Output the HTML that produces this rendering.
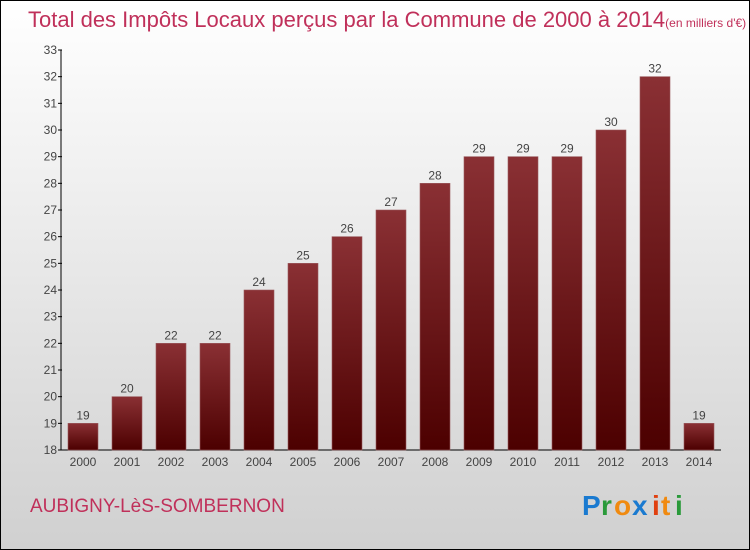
<!DOCTYPE html>
<html><head><meta charset="utf-8"><style>
body{margin:0;}
svg{display:block;font-family:"Liberation Sans",sans-serif;}
</style></head><body>
<svg id="c" width="750" height="550" xmlns="http://www.w3.org/2000/svg">
<defs>
<linearGradient id="bg" x1="0" y1="0" x2="0" y2="1"><stop offset="0" stop-color="#ffffff"/><stop offset="1" stop-color="#d0d0d0"/></linearGradient>
<linearGradient id="bar" x1="0" y1="0" x2="0" y2="1"><stop offset="0" stop-color="#8a3034"/><stop offset="1" stop-color="#4c0000"/></linearGradient>
</defs>
<rect x="0.5" y="0.5" width="749" height="549" fill="url(#bg)" stroke="#000"/>
<text x="28" y="27" font-size="22" fill="#c0305a">Total des Impôts Locaux perçus par la Commune de 2000 à 2014<tspan font-size="12">(en milliers d'€)</tspan></text>
<g id="axes"></g>
<g id="bars"></g>
<text x="30" y="512" font-size="19" fill="#c0305a">AUBIGNY-LèS-SOMBERNON</text>
<g font-size="28" font-weight="bold">
<text x="582" y="515" fill="#1a7ad0">P</text><text x="601" y="515" fill="#2a9a3a">r</text><text x="614" y="515" fill="#f08a10">o</text><text x="632" y="515" fill="#1a7ad0">x</text><text x="652" y="515" fill="#e04010">i</text><text x="661" y="515" fill="#f08a10">t</text><text x="675" y="515" fill="#2a9a3a">i</text>
</g>
</svg>
<script>
const years=["2000","2001","2002","2003","2004","2005","2006","2007","2008","2009","2010","2011","2012","2013","2014"];
const values=[19,20,22,22,24,25,26,27,28,29,29,29,30,32,19];
const yTicks=[18,19,20,21,22,23,24,25,26,27,28,29,30,31,32,33];
const NS="http://www.w3.org/2000/svg";
const y0=450,yTop=50,vMin=18,vMax=33,x0=61,x1=721;
const yS=v=>y0-(v-vMin)/(vMax-vMin)*(y0-yTop);
const step=(x1-x0)/years.length;
const xS=i=>x0+step*(i+0.5);
function mk(t,a,p){const e=document.createElementNS(NS,t);for(const k in a)e.setAttribute(k,a[k]);(p||document.getElementById('c')).appendChild(e);return e;}
const ax=document.getElementById('axes'),bs=document.getElementById('bars');
const yl=mk('line',{x1:x0,y1:yTop,x2:x0,y2:y0,stroke:'#000'},ax);


const xl=mk('line',{x1:x0,y1:y0,x2:x1,y2:y0,stroke:'#000'},ax);


yTicks.forEach(v=>{
 const y=yS(v);
 mk('line',{x1:x0-3,y1:y,x2:x0+1,y2:y,stroke:'#000'},ax);
 const t=mk('text',{x:x0-4,y:y+4,'text-anchor':'end','font-size':12,fill:'#444'},ax);
 t.textContent=v;
 
 
});
years.forEach((yr,i)=>{
 const cx=xS(i),w=30,top=yS(values[i]);
 const r=mk('rect',{x:cx-w/2,y:top,width:w,height:y0-top,fill:'url(#bar)',stroke:'#9a5a5e','stroke-width':0.6},bs);
 
 
 const vl=mk('text',{x:cx,y:top-4,'text-anchor':'middle','font-size':12,fill:'#444'},bs);
 vl.textContent=values[i];
 
 
 const xt=mk('text',{x:cx,y:466,'text-anchor':'middle','font-size':12,fill:'#444'},ax);
 xt.textContent=yr;
 
 
});
</script>
</body></html>
